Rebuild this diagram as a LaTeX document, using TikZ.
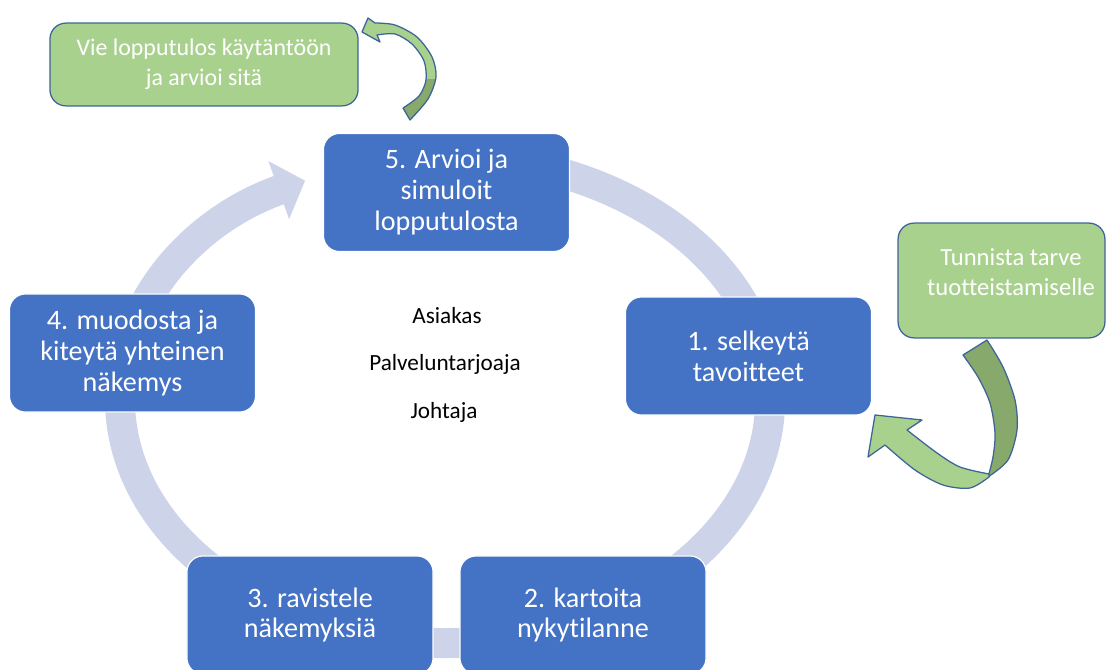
\documentclass[tikz,border=0pt]{standalone}
\usepackage{fontspec}
\setmainfont{Carlito}[Ligatures=NoCommon]
\usetikzlibrary{arrows.meta}

\definecolor{stageblue}{HTML}{4472C4}
\definecolor{ringgrey}{HTML}{CDD4EA}
\definecolor{notegreen}{HTML}{A9D18E}
\definecolor{notedark}{HTML}{87A96B}
\definecolor{noteedge}{HTML}{3E6498}

\begin{document}
\begin{tikzpicture}[x=0.025cm,y=-0.025cm]

    \tikzset{
      stage/.style={
        rectangle,
        rounded corners=0.4cm,
        fill=stageblue,
        draw=white,
        line width=0.8pt,
        minimum width=6.15cm,
        minimum height=2.95cm,
        text=white,
        align=center,
        font=\fontsize{20}{22}\selectfont,
      },
      note/.style={
        rectangle,
        rounded corners=0.4cm,
        fill=notegreen,
        draw=noteedge,
        line width=0.9pt,
        text=white,
        align=center,
        font=\fontsize{17}{21}\selectfont,
      },
      role/.style={font=\fontsize{16.5}{20}\selectfont, text=black},
      loop/.style={fill=notegreen, draw=noteedge, line width=0.9pt, line join=round},
      ring/.style={draw=ringgrey, line width=0.75cm},
    }
    \useasboundingbox (0,0) rectangle (1106,670);
    \clip (0,0) rectangle (1106,670);

    % cycle ring
    \draw[ring, -{Triangle[length=0.7cm,width=1.5cm]}] (388.6,160.7)
      arc[start angle=-100, end angle=244.5, x radius=325, y radius=243];

    % curved arrows
    \filldraw[loop, path picture={\fill[notedark] (395,79) rectangle (450,130);}]
      (362,32) -- (368,18) -- (375,23)
      -- plot[smooth] coordinates {(375,23) (395,25) (417,37) (432,57) (436,77) (428,99) (410,120)}
      -- (403,108)
      -- plot[smooth] coordinates {(403,108) (419,96) (426,80) (424,61) (412,44) (395,34) (377,35)}
      -- (380,42) -- cycle;
    \filldraw[loop, fill=notedark] (963,355) -- (987,340)
      -- plot[smooth] coordinates {(987,340) (1003,367) (1015,400) (1017,430) (1008,460) (988,477)}
      -- plot[smooth] coordinates {(988,477) (993,457) (995,433) (990,403) (978,377) (963,355)}
      -- cycle;
    \filldraw[loop] (875,415) -- (922,420) -- (907,430)
      -- plot[smooth] coordinates {(907,430) (937,453) (960,467) (989,474)}
      -- plot[smooth] coordinates {(989,477) (970,488) (943,485) (915,470) (885,445)}
      -- (868,457) -- cycle;

    % stages
    \node[stage] (assess) at (446.5,192.5) {5. Arvioi ja\\simuloit\\lopputulosta};
    \node[stage] (clarify) at (748.5,356) {1. selkeytä\\tavoitteet};
    \node[stage] (survey) at (583,615) {2. kartoita\\nykytilanne};
    \node[stage] (shake) at (310,615) {3. ravistele\\näkemyksiä};
    \node[stage] (shape) at (132.5,353) {4. muodosta ja\\kiteytä yhteinen\\näkemys};

    % notes
    \node[note, minimum width=7.7cm, minimum height=2.07cm] (apply) at (204,64.5)
      {Vie lopputulos käytäntöön\\ja arvioi sitä};
    \node[note, minimum width=5.17cm, minimum height=2.87cm] (need) at (1001.5,280.5) {};
    \node[note, draw=none, fill=none, font=\fontsize{17.5}{21}\selectfont] (needtext) at (1011,272)
      {Tunnista tarve\\tuotteistamiselle};

    % roles
    \node[role] (client) at (447,316) {Asiakas};
    \node[role] (provider) at (445,364) {Palveluntarjoaja};
    \node[role] (leader) at (444,412) {Johtaja};

\end{tikzpicture}
\end{document}
